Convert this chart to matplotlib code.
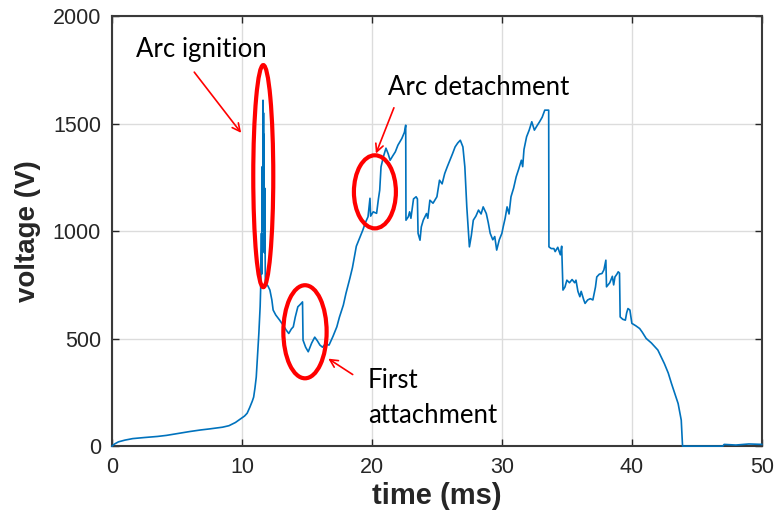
import matplotlib
matplotlib.use("Agg")
import matplotlib.pyplot as plt
from matplotlib.patches import Ellipse

time_ms = [0, 0.2, 0.5, 1.0, 1.6, 2.5, 3.5, 4.2, 5.0, 6.0, 6.8, 7.5, 8.5, 9.0, 9.5, 9.85,
           10.2, 10.4, 10.6, 10.8, 10.9, 11.0, 11.1, 11.2, 11.3, 11.4, 11.45, 11.5, 11.52,
           11.56, 11.6, 11.62, 11.64, 11.66, 11.68, 11.7, 11.72, 11.75, 11.8, 12.0, 12.15,
           12.3, 12.4, 12.6, 12.9, 13.2, 13.4, 13.6, 13.8, 13.95, 14.1, 14.3, 14.5, 14.66,
           14.7, 14.9, 15.1, 15.36, 15.6, 15.8, 16.0, 16.2, 16.4, 16.7, 17.0, 17.3, 17.5,
           17.8, 18.0, 18.3, 18.5, 18.8, 19.0, 19.3, 19.5, 19.7, 19.85, 19.9, 20.1, 20.36,
           20.5, 20.6, 20.7, 20.9, 21.08, 21.25, 21.4, 21.6, 21.8, 22.0, 22.3, 22.5, 22.6,
           22.62, 22.8, 22.9, 23.0, 23.2, 23.4, 23.5, 23.55, 23.7, 23.8, 23.95, 24.2, 24.3,
           24.46, 24.7, 25.0, 25.2, 25.4, 25.6, 25.8, 26.0, 26.2, 26.4, 26.6, 26.8, 27.0,
           27.15, 27.3, 27.5, 27.65, 27.8, 28.0, 28.2, 28.4, 28.56, 28.8, 28.95, 29.1, 29.3,
           29.45, 29.6, 29.8, 30.0, 30.1, 30.25, 30.4, 30.55, 30.7, 30.9, 31.1, 31.3, 31.5,
           31.6, 31.7, 31.9, 32.1, 32.3, 32.5, 32.7, 32.9, 33.1, 33.3, 33.6, 33.62, 33.8,
           34.0, 34.1, 34.3, 34.5, 34.6, 34.7, 34.85, 35.0, 35.2, 35.4, 35.6, 35.7, 35.85,
           36.0, 36.1, 36.3, 36.4, 36.6, 36.8, 37.0, 37.2, 37.3, 37.5, 37.7, 37.85, 38.0,
           38.05, 38.3, 38.5, 38.6, 38.7, 38.85, 38.95, 39.05, 39.1, 39.3, 39.5, 39.6, 39.7,
           39.85, 40.0, 40.3, 40.6, 40.8, 41.1, 41.5, 42.0, 42.5, 42.8, 43.05, 43.3, 43.56,
           43.8, 43.9, 47.0, 47.1, 48.0, 49.0, 50.0]
voltage_V = [0, 10, 20, 28, 35, 40, 45, 50, 58, 68, 75, 80, 88, 95, 110, 125,
             140, 153, 180, 210, 228, 270, 321, 420, 525, 650, 757, 990, 800,
             1300, 1000, 1609, 1100, 1550, 1050, 1450, 900, 1200, 760, 745, 726,
             680, 633, 610, 586, 560, 540, 524, 545, 555, 600, 648, 660, 671,
             493, 460, 439, 479, 507, 490, 470, 460, 475, 470, 510, 555, 600,
             656, 710, 780, 830, 930, 960, 1005, 1040, 1067, 1153, 1070, 1090, 1083,
             1150, 1191, 1299, 1350, 1386, 1360, 1330, 1350, 1369, 1400, 1431, 1460, 1493,
             1051, 1067, 1090, 1060, 1150, 1160, 1150, 990, 958, 1020, 1051, 1082, 1060,
             1144, 1130, 1160, 1237, 1220, 1268, 1300, 1330, 1360, 1392, 1410, 1423, 1392,
             1299, 1113, 927, 980, 1051, 1070, 1098, 1080, 1113, 1082, 1040, 990, 960,
             975, 912, 960, 990, 1020, 1060, 1113, 1080, 1160, 1200, 1253, 1290, 1330,
             1300, 1380, 1439, 1470, 1509, 1470, 1490, 1509, 1530, 1563, 1563, 927, 919,
             919, 905, 925, 890, 930, 726, 740, 772, 760, 775, 760, 772, 720,
             695, 720, 680, 664, 680, 686, 680, 740, 787, 800, 803, 820, 865,
             741, 760, 790, 750, 787, 800, 811, 805, 601, 590, 586, 620, 640,
             633, 571, 560, 547, 530, 501, 480, 447, 384, 340, 291, 245, 198,
             121, 0, 0, 8, 5, 10, 8]

x_ticks = [0, 10, 20, 30, 40, 50]
y_ticks = [0, 500, 1000, 1500, 2000]

fig = plt.figure(figsize=(7.75, 5.23), dpi=100)
ax = fig.add_axes([0.1445, 0.147, 0.8385, 0.822])
ax.plot(time_ms, voltage_V, color="#0072BD", lw=1.2, zorder=3, clip_on=False)
ax.set_xlim(0, 50)
ax.set_ylim(0, 2000)
ax.set_xticks(x_ticks)
ax.set_yticks(y_ticks)
ax.grid(True, color="#dcdcdc", lw=1.0)
ax.set_axisbelow(True)
ax.tick_params(direction="in", top=True, right=True, length=5, width=1,
               colors="#262626", labelsize=15.5, labelcolor="#262626", pad=8)
for s in ax.spines.values():
    s.set_color("#3a3a3a")
    s.set_linewidth(1.5)
for lab in ax.get_xticklabels() + ax.get_yticklabels():
    lab.set_family("Liberation Sans")
ax.set_xlabel("time (ms)", fontsize=21, fontweight="bold", family="Liberation Sans",
              color="#262626", labelpad=3)
ax.set_ylabel("voltage (V)", fontsize=20, fontweight="bold", family="Liberation Sans",
              color="#262626", labelpad=8)

# red ellipses
for (cx, cy, w, h) in [(11.64, 1256, 1.54, 1033), (14.85, 532, 3.33, 433), (20.23, 1183, 3.23, 340)]:
    ax.add_patch(Ellipse((cx, cy), w, h, fill=False, edgecolor="#ff0000", lw=3, zorder=5))

tfont = dict(fontsize=18.5, family="Lato", color="black")
arrow = dict(arrowstyle="->", color="#ff0000", lw=1.2, mutation_scale=14)
ax.text(1.85, 1811, "Arc ignition", ha="left", va="baseline", **tfont)
ax.annotate("", xy=(10.07, 1447), xytext=(6.2, 1750), arrowprops=arrow)
ax.text(21.23, 1633, "Arc detachment", ha="left", va="baseline", **tfont)
ax.annotate("", xy=(20.23, 1349), xytext=(21.77, 1586), arrowprops=arrow)
ax.text(19.7, 270, "First", ha="left", va="baseline", **tfont)
ax.text(19.7, 107, "attachment", ha="left", va="baseline", **tfont)
ax.annotate("", xy=(16.46, 414), xytext=(18.7, 326), arrowprops=arrow)

fig.savefig("out.png", dpi=100)
